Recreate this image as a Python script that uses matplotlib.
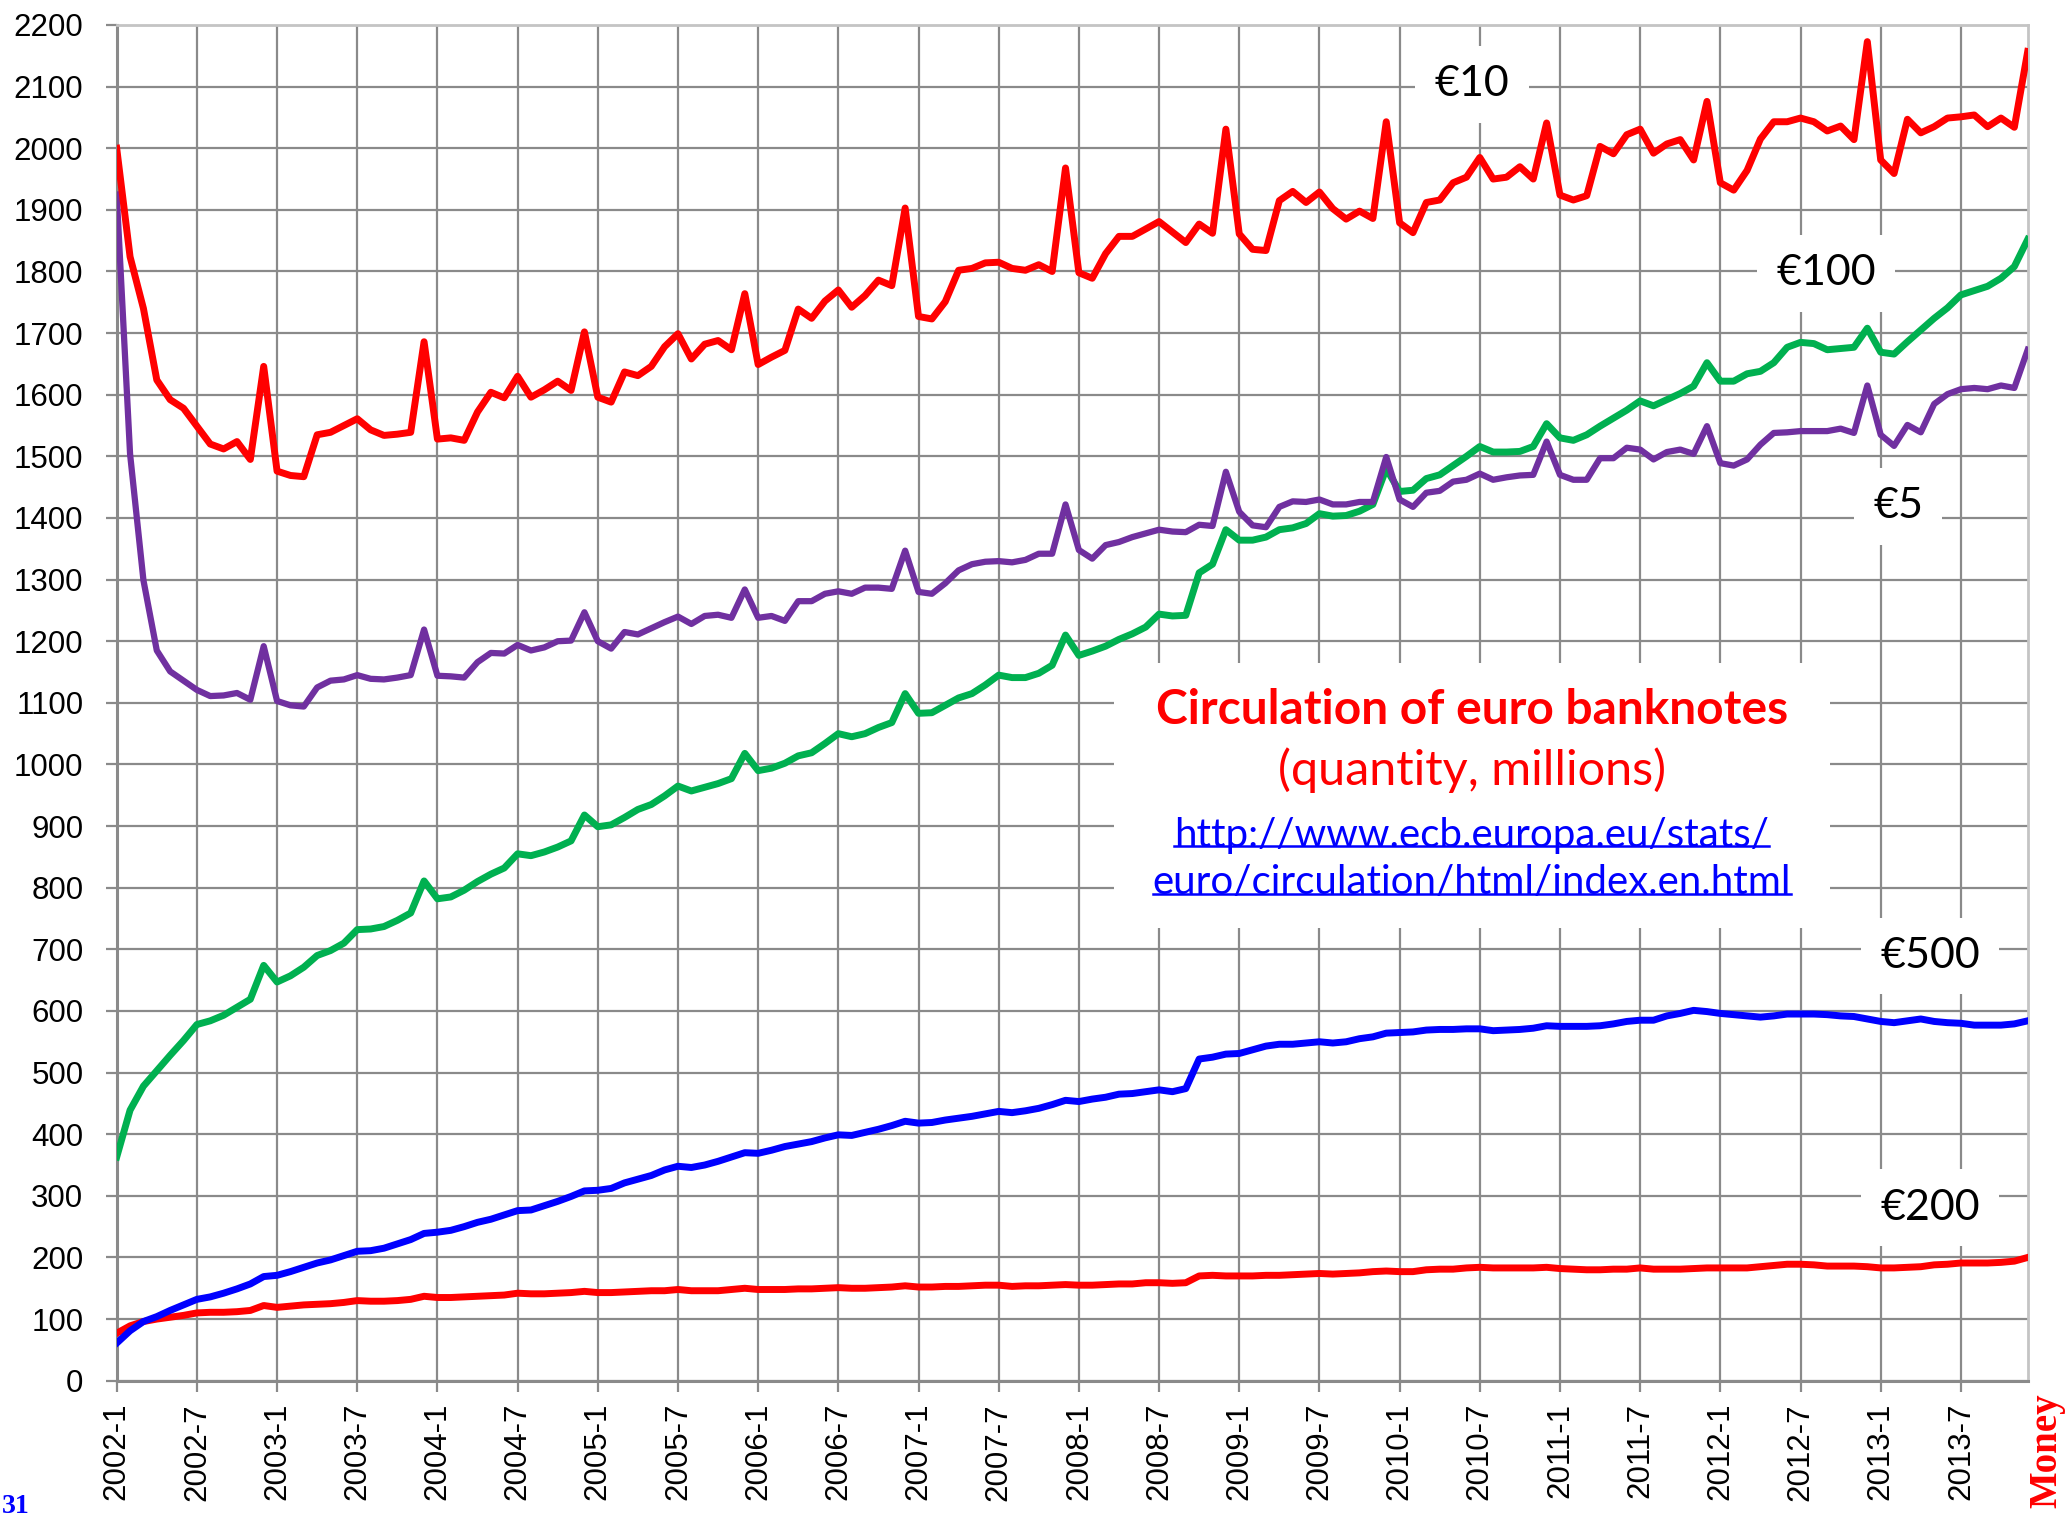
import matplotlib
matplotlib.use("Agg")
import matplotlib.pyplot as plt
from matplotlib.lines import Line2D
from matplotlib.patches import Rectangle

# ---------------- data (millions of banknotes, monthly 2002-1 .. 2013-12) -------------
months = [f"{2002 + k // 12}-{k % 12 + 1}" for k in range(144)]

eur10 = [2000, 1824, 1740, 1624, 1592, 1578, 1549, 1520, 1512, 1524, 1495, 1646,
         1476, 1469, 1467, 1535, 1539, 1550, 1561, 1543, 1534, 1536, 1539, 1686,
         1528, 1530, 1526, 1572, 1604, 1595, 1630, 1596, 1608, 1622, 1607, 1702,
         1596, 1588, 1637, 1631, 1646, 1678, 1699, 1658, 1682, 1688, 1673, 1764,
         1649, 1661, 1672, 1739, 1724, 1752, 1770, 1742, 1761, 1786, 1777, 1903,
         1727, 1723, 1751, 1802, 1805, 1814, 1815, 1805, 1802, 1811, 1800, 1968,
         1798, 1789, 1829, 1857, 1857, 1869, 1881, 1864, 1847, 1877, 1862, 2031,
         1861, 1836, 1834, 1915, 1930, 1912, 1929, 1902, 1885, 1898, 1886, 2043,
         1879, 1863, 1912, 1916, 1944, 1953, 1985, 1950, 1953, 1970, 1950, 2041,
         1924, 1916, 1923, 2003, 1991, 2022, 2031, 1992, 2007, 2014, 1981, 2076,
         1944, 1932, 1964, 2015, 2043, 2043, 2049, 2043, 2028, 2036, 2014, 2173,
         1981, 1959, 2047, 2025, 2035, 2049, 2051, 2054, 2035, 2049, 2034, 2157]

eur5 = [1925, 1504, 1299, 1185, 1151, 1136, 1121, 1111, 1112, 1116, 1105, 1192,
        1103, 1096, 1094, 1125, 1136, 1138, 1145, 1139, 1138, 1141, 1145, 1219,
        1144, 1143, 1141, 1166, 1181, 1180, 1194, 1185, 1190, 1200, 1201, 1247,
        1200, 1188, 1215, 1211, 1221, 1231, 1240, 1228, 1241, 1243, 1238, 1284,
        1238, 1241, 1233, 1265, 1265, 1277, 1281, 1277, 1287, 1287, 1285, 1347,
        1280, 1277, 1294, 1315, 1325, 1329, 1330, 1328, 1332, 1342, 1342, 1422,
        1348, 1334, 1356, 1361, 1369, 1375, 1381, 1378, 1377, 1389, 1387, 1475,
        1410, 1388, 1385, 1418, 1427, 1426, 1430, 1422, 1422, 1426, 1426, 1499,
        1430, 1418, 1441, 1444, 1459, 1462, 1472, 1462, 1466, 1469, 1470, 1524,
        1470, 1462, 1462, 1497, 1497, 1514, 1511, 1495, 1507, 1511, 1504, 1549,
        1489, 1485, 1495, 1519, 1538, 1539, 1541, 1541, 1541, 1545, 1538, 1615,
        1535, 1517, 1551, 1539, 1585, 1601, 1609, 1611, 1609, 1615, 1611, 1673]

eur100 = [363, 439, 478, 503, 528, 552, 578, 584, 593, 606, 619, 674,
          647, 657, 671, 690, 698, 710, 732, 733, 737, 747, 759, 811,
          782, 785, 796, 810, 822, 832, 855, 852, 858, 866, 876, 918,
          899, 902, 914, 927, 935, 949, 965, 957, 963, 969, 977, 1018,
          990, 994, 1002, 1014, 1019, 1034, 1050, 1045, 1050, 1060, 1068, 1115,
          1083, 1084, 1096, 1108, 1115, 1129, 1145, 1141, 1141, 1148, 1161, 1210,
          1177, 1184, 1192, 1203, 1212, 1223, 1244, 1241, 1242, 1311, 1325, 1381,
          1364, 1364, 1369, 1381, 1384, 1391, 1407, 1403, 1404, 1411, 1422, 1480,
          1443, 1445, 1464, 1470, 1485, 1500, 1516, 1507, 1507, 1508, 1516, 1553,
          1530, 1526, 1535, 1549, 1562, 1575, 1590, 1582, 1592, 1602, 1614, 1652,
          1622, 1622, 1634, 1638, 1652, 1677, 1685, 1683, 1673, 1675, 1677, 1708,
          1669, 1666, 1686, 1705, 1724, 1741, 1762, 1769, 1776, 1789, 1808, 1852]

eur500 = [61, 81, 96, 104, 114, 123, 132, 136, 142, 149, 157, 169,
          171, 177, 184, 191, 196, 203, 210, 211, 215, 222, 229, 239,
          241, 244, 250, 257, 262, 269, 276, 277, 284, 291, 299, 308,
          309, 312, 321, 327, 333, 342, 348, 346, 350, 356, 363, 370,
          369, 374, 380, 384, 388, 394, 399, 398, 403, 408, 414, 421,
          418, 419, 423, 426, 429, 433, 437, 435, 438, 442, 448, 455,
          453, 457, 460, 465, 466, 469, 472, 469, 474, 522, 525, 530,
          531, 537, 543, 546, 546, 548, 550, 548, 550, 555, 558, 564,
          565, 566, 569, 570, 570, 571, 571, 568, 569, 570, 572, 576,
          575, 575, 575, 576, 579, 583, 585, 585, 592, 596, 601, 599,
          596, 594, 592, 590, 592, 595, 595, 595, 594, 592, 591, 587,
          583, 581, 584, 587, 583, 581, 580, 577, 577, 577, 579, 584]

eur200 = [77, 89, 96, 100, 103, 106, 110, 111, 111, 112, 114, 122,
          119, 121, 123, 124, 125, 127, 130, 129, 129, 130, 132, 137,
          135, 135, 136, 137, 138, 139, 142, 141, 141, 142, 143, 145,
          143, 143, 144, 145, 146, 146, 148, 146, 146, 146, 148, 150,
          148, 148, 148, 149, 149, 150, 151, 150, 150, 151, 152, 154,
          152, 152, 153, 153, 154, 155, 155, 153, 154, 154, 155, 156,
          155, 155, 156, 157, 157, 159, 159, 158, 159, 170, 171, 170,
          170, 170, 171, 171, 172, 173, 174, 173, 174, 175, 177, 178,
          177, 177, 180, 181, 181, 183, 184, 183, 183, 183, 183, 184,
          182, 181, 180, 180, 181, 181, 183, 181, 181, 181, 182, 183,
          183, 183, 183, 185, 187, 189, 189, 188, 186, 186, 186, 185,
          183, 183, 184, 185, 188, 189, 191, 191, 191, 192, 194, 200]

y_ticks = list(range(0, 2201, 100))
x_tick_idx = list(range(0, 144, 6))
x_tick_labels = [months[k] for k in x_tick_idx]

# ---------------- figure ----------------
W, H, DPI = 2071, 1515, 100
fig = plt.figure(figsize=(W / DPI, H / DPI), dpi=DPI)
fig.patch.set_facecolor("white")
ax = fig.add_axes([116.7 / W, 1 - 1380.7 / H, (2027.7 - 116.7) / W, (1380.7 - 25) / H])

x = list(range(len(months)))
lw = 5.0
ax.plot(x, eur200, color="#FF0000", lw=lw, solid_joinstyle="round", zorder=5)
ax.plot(x, eur500, color="#0000FF", lw=lw, solid_joinstyle="round", zorder=5)
ax.plot(x, eur100, color="#00B050", lw=lw, solid_joinstyle="round", zorder=5)
ax.plot(x, eur5, color="#7030A0", lw=4.5, solid_joinstyle="round", zorder=5)
ax.plot(x, eur10, color="#FF0000", lw=lw, solid_joinstyle="round", zorder=6)

ax.set_xlim(0, len(months) - 1)
ax.set_ylim(0, 2200)
ax.set_yticks(y_ticks)
ax.set_xticks(x_tick_idx)
ax.set_xticklabels(x_tick_labels, rotation=90)

gcol = "#8a8a8a"
ax.grid(True, color=gcol, lw=1.6, zorder=1)
ax.set_axisbelow(True)
for s in ["left", "bottom"]:
    ax.spines[s].set_color(gcol)
    ax.spines[s].set_linewidth(2.2)
for s in ["top", "right"]:
    ax.spines[s].set_color("#c4c4c4")
    ax.spines[s].set_linewidth(2.0)

ax.tick_params(axis="both", colors=gcol, length=8, width=1.6, labelcolor="black",
               labelsize=22.5)
ax.tick_params(axis="y", pad=16)
ax.tick_params(axis="x", pad=8)
for t in ax.get_xticklabels() + ax.get_yticklabels():
    t.set_fontfamily("Liberation Sans")

# ---------------- series labels with white boxes ----------------
lab_font = "Lato"
def box_label(xd, yd, s):
    ax.text(xd, yd, s, fontsize=31, family=lab_font, ha="center", va="center",
            zorder=4, bbox=dict(boxstyle="square,pad=0.45", fc="white", ec="none"))

box_label(101.4, 2104, "€10")
box_label(127.9, 1797, "€100")
box_label(133.3, 1419, "€5")
box_label(135.7, 689, "€500")
box_label(135.7, 281, "€200")

# ---------------- title block ----------------
ax.add_patch(Rectangle((74.6, 735), 128.2 - 74.6, 1164 - 735, fc="white", ec="none", zorder=2))
cx = 101.4
ax.text(cx, 1088, "Circulation of euro banknotes", color="#FF0000", fontsize=34.5,
        fontweight="bold", family=lab_font, ha="center", va="center", zorder=4)
ax.text(cx, 990, "(quantity, millions)", color="#FF0000", fontsize=35,
        family=lab_font, ha="center", va="center", zorder=4)
u1 = ax.text(cx, 885, "http://www.ecb.europa.eu/stats/", color="#0000FF", fontsize=29,
             family=lab_font, ha="center", va="center", zorder=4)
u2 = ax.text(cx, 808, "euro/circulation/html/index.en.html", color="#0000FF", fontsize=29,
             family=lab_font, ha="center", va="center", zorder=4)

fig.text(2047 / W, 1 - 1393 / H, "Money", color="#FF0000", fontsize=28, fontweight="bold",
         family="Liberation Serif", rotation=90, ha="center", va="top")
fig.text(2 / W, 1 - 1513 / H, "31", color="#0000FF", fontsize=20, fontweight="bold",
         family="Liberation Serif", ha="left", va="baseline")

# underline URLs
fig.canvas.draw()
r = fig.canvas.get_renderer()
for t in (u1, u2):
    bb = t.get_window_extent(renderer=r)
    yline = bb.y0 + 0.2 * bb.height
    fig.add_artist(Line2D([bb.x0 / W, bb.x1 / W], [yline / H, yline / H],
                          color="#0000FF", lw=1.8, transform=fig.transFigure, zorder=4))

fig.savefig("out.png", dpi=DPI, facecolor="white")
